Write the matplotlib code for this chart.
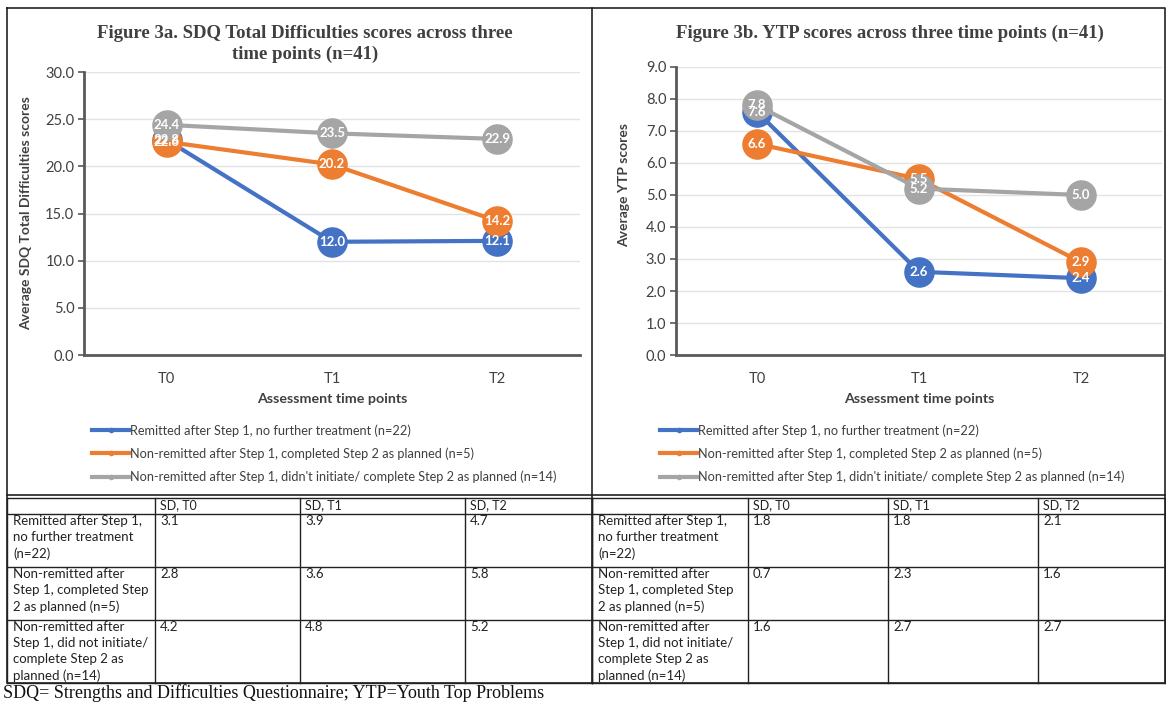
import matplotlib.pyplot as plt
from matplotlib.lines import Line2D

# ---- data ----
timepoints = ["T0", "T1", "T2"]
groups = [
    "Remitted after Step 1, no further treatment (n=22)",
    "Non-remitted after Step 1, completed Step 2 as planned (n=5)",
    "Non-remitted after Step 1, didn't initiate/ complete Step 2 as planned (n=14)",
]
sdq_remitted = [22.8, 12.0, 12.1]
sdq_completed = [22.6, 20.2, 14.2]
sdq_not_completed = [24.4, 23.5, 22.9]
ytp_remitted = [7.6, 2.6, 2.4]
ytp_completed = [6.6, 5.5, 2.9]
ytp_not_completed = [7.8, 5.2, 5.0]

table_cols = ["SD, T0", "SD, T1", "SD, T2"]
table_rows = [
    "Remitted after Step 1,\nno further treatment\n(n=22)",
    "Non-remitted after\nStep 1, completed Step\n2 as planned (n=5)",
    "Non-remitted after\nStep 1, did not initiate/\ncomplete Step 2 as\nplanned (n=14)",
]
sdq_sd = [["3.1", "3.9", "4.7"], ["2.8", "3.6", "5.8"], ["4.2", "4.8", "5.2"]]
ytp_sd = [["1.8", "1.8", "2.1"], ["0.7", "2.3", "1.6"], ["1.6", "2.7", "2.7"]]
footnote = "SDQ= Strengths and Difficulties Questionnaire; YTP=Youth Top Problems"

colors = ["#4472C4", "#ED7D31", "#A5A5A5"]
W, H = 1166, 703
SANS = "Lato"
SERIF = "Liberation Serif"

fig = plt.figure(figsize=(W / 100, H / 100), dpi=100)

# background overlay in pixel coordinates for borders and tables
bg = fig.add_axes([0, 0, 1, 1], zorder=0)
bg.set_xlim(0, W)
bg.set_ylim(H, 0)
bg.axis("off")


def pix_axes(x0, y0, x1, y1):
    return fig.add_axes([x0 / W, 1 - y1 / H, (x1 - x0) / W, (y1 - y0) / H], zorder=2)


def draw_chart(ax, series, ymax, ystep, title_xy, title, ylabel, ylab_pos, xlab_y, leg_xy):
    ax.set_facecolor("none")
    x = list(range(len(timepoints)))
    for vals, c in zip(series, colors):
        ax.plot(x, vals, color=c, lw=3, marker="o", ms=21, mec=c, mfc=c, zorder=3,
                solid_capstyle="round")
        for xi, v in zip(x, vals):
            ax.text(xi, v, f"{v:.1f}", ha="center", va="center", color="white",
                    fontsize=9.5, fontweight="bold", family=SANS, zorder=4)
    ax.set_xlim(-0.5, len(timepoints) - 0.5)
    ax.set_ylim(0, ymax)
    ticks = [i * ystep for i in range(int(round(ymax / ystep)) + 1)]
    ax.set_yticks(ticks)
    ax.set_yticklabels([f"{t:.1f}" for t in ticks], fontsize=10.5, family=SANS, color="#404040")
    ax.set_xticks(x)
    ax.set_xticklabels(timepoints, fontsize=10.5, family=SANS, color="#404040")
    ax.tick_params(axis="x", length=0, pad=12)
    ax.tick_params(axis="y", length=4, width=1.2, color="#595959", pad=3)
    ax.grid(axis="y", color="#E3E3E3", lw=1)
    ax.set_axisbelow(True)
    for s in ["top", "right"]:
        ax.spines[s].set_visible(False)
    for s in ["left", "bottom"]:
        ax.spines[s].set_color("#595959")
        ax.spines[s].set_linewidth(2)
    ax.set_ylabel(ylabel, fontsize=10, fontweight="bold", family=SANS, color="#404040")
    ax.yaxis.set_label_coords(*ylab_pos)
    ax.set_xlabel("Assessment time points", fontsize=10.3, fontweight="bold", family=SANS,
                  color="#404040")
    ax.xaxis.set_label_coords(0.5, xlab_y)
    fig.text(title_xy[0] / W, 1 - title_xy[1] / H, title, ha="center", va="center",
             fontsize=13.5, fontweight="bold", family=SERIF, color="#404040", linespacing=1.35)
    handles = [Line2D([0], [0], color=c, lw=3, marker="o", ms=3) for c in colors]
    fig.legend(handles, groups, loc="upper left",
               bbox_to_anchor=(leg_xy[0] / W, 1 - leg_xy[1] / H), frameon=False,
               prop={"family": SANS, "size": 9.2}, handlelength=2.9, handletextpad=0.1,
               labelspacing=0.85, borderaxespad=0, borderpad=0, labelcolor="#404040")


ax1 = pix_axes(84, 72, 580, 355)
draw_chart(ax1, [sdq_remitted, sdq_completed, sdq_not_completed], 30, 5, (305, 44),
           "Figure 3a. SDQ Total Difficulties scores across three\ntime points (n=41)",
           "Average SDQ Total Difficulties scores", (-0.105, 0.5), -0.135, (92, 424))

ax2 = pix_axes(676, 67, 1162, 355)
draw_chart(ax2, [ytp_remitted, ytp_completed, ytp_not_completed], 9, 1, (890, 33),
           "Figure 3b. YTP scores across three time points (n=41)",
           "Average YTP scores", (-0.095, 0.59), -0.132, (660, 424))

# ---- borders ----
lc = "#222222"
bg.plot([7, 1165, 1165, 7, 7], [8, 8, 683, 683, 8], color=lc, lw=1.2)
bg.plot([592, 592], [8, 683], color=lc, lw=1.2)
bg.plot([7, 1165], [495, 495], color=lc, lw=1.2)


def draw_table(x_edges, y_edges, data):
    for y in y_edges:
        bg.plot([x_edges[0], x_edges[-1]], [y, y], color=lc, lw=1)
    for x in x_edges:
        bg.plot([x, x], [y_edges[0], y_edges[-1]], color=lc, lw=1)
    for j, c in enumerate(table_cols):
        bg.text(x_edges[j + 1] + 5, y_edges[0] + 1, c, ha="left", va="top",
                fontsize=9, family=SANS, color="#222222")
    for i, r in enumerate(table_rows):
        bg.text(x_edges[0] + 6, y_edges[i + 1] + 1, r, ha="left", va="top",
                fontsize=9.5, family=SANS, color="#222222", linespacing=1.4)
        for j, v in enumerate(data[i]):
            bg.text(x_edges[j + 1] + 5, y_edges[i + 1] + 1, v, ha="left", va="top",
                    fontsize=9.5, family=SANS, color="#222222")


row_edges = [498, 514, 567, 620, 683]
draw_table([7, 155, 300, 465, 592], row_edges, sdq_sd)
draw_table([592, 748, 888, 1038, 1165], row_edges, ytp_sd)

bg.text(3, 693, footnote, ha="left", va="center", fontsize=13, family=SERIF, color="#111111")

fig.savefig("out.png", dpi=100, facecolor="white")
